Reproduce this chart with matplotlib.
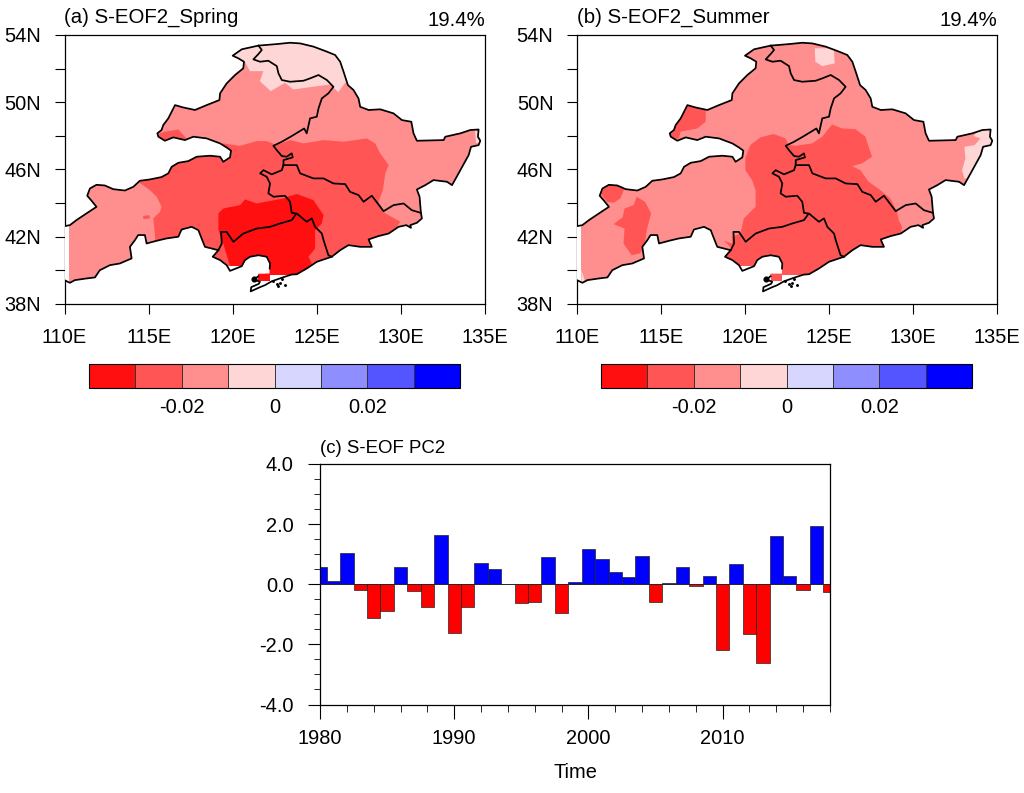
import matplotlib
matplotlib.use("Agg")
import matplotlib.pyplot as plt
import numpy as np
from matplotlib.patches import Polygon, Rectangle
from matplotlib.colors import ListedColormap, BoundaryNorm
from matplotlib.cm import ScalarMappable
from matplotlib.ticker import MultipleLocator, NullLocator

plt.rcParams['font.family'] = ['Liberation Sans', 'DejaVu Sans']

# ---- data ----
level_colors = ['#FF0F0F', '#FF5555', '#FF8E8E', '#FFD6D6', '#D6D6FF', '#8E8EFF', '#5555FF', '#0000FF']
levels = [-0.04, -0.03, -0.02, -0.01, 0, 0.01, 0.02, 0.03, 0.04]
level_ticks = [-0.02, 0, 0.02]
level_ticklabels = ['-0.02', '0', '0.02']

region_outline = [
 (110.0,42.63),(110.32,42.69),(110.71,42.99),(111.31,43.39),(111.90,43.78),(111.61,44.14),(111.35,44.44),
 (111.51,44.87),(111.90,45.09),(112.40,45.05),(112.90,44.83),(113.59,44.75),(114.09,44.97),(114.48,45.33),
 (115.08,45.41),(115.77,45.55),(116.17,45.77),(116.37,46.16),(116.77,46.40),(117.36,46.50),(117.86,46.76),
 (118.65,46.82),(119.25,46.76),(119.44,46.46),(119.84,46.72),(119.90,47.12),(119.64,47.31),(119.25,47.55),
 (118.45,47.85),(117.66,47.95),(117.16,47.75),(116.47,47.91),(115.97,47.71),(115.58,47.95),(115.52,48.15),
 (115.77,48.35),(115.87,48.64),(116.17,49.04),(116.57,49.83),(117.06,49.69),(117.76,49.54),(118.45,49.83),
 (119.21,50.13),(119.25,50.53),(119.64,51.12),(120.14,51.62),(120.63,52.02),(120.67,52.41),(120.34,52.61),
 (120.0,52.77),(120.54,53.15),(121.53,53.37),(122.62,53.46),(123.41,53.54),(124.01,53.50),(124.80,53.31),
 (125.60,53.01),(126.09,52.81),(126.39,52.41),(126.59,51.82),(126.85,51.02),(127.18,50.73),(127.48,50.23),
 (127.58,49.73),(128.08,49.54),(128.77,49.58),(129.56,49.34),(130.06,48.94),(130.62,48.84),(130.75,48.15),
 (130.95,47.71),(132.54,47.75),(132.64,47.95),(133.53,48.15),(134.13,48.35),(134.62,48.38),(134.58,47.95),
 (134.72,47.71),(134.62,47.45),(134.17,47.35),(134.03,46.86),(133.43,45.77),(133.04,45.07),(132.74,45.27),
 (131.94,45.37),(131.45,45.07),(130.95,44.81),(131.11,44.38),(131.19,43.42),(131.25,43.09),(130.95,42.83),
 (130.56,42.69),(130.60,42.53),(130.32,42.69),(129.86,42.59),(129.27,42.19),(128.67,42.04),(128.08,41.84),
 (128.27,41.40),(127.58,41.40),(126.88,41.50),(126.39,41.20),(125.89,40.81),(125.00,40.51),(124.40,40.11),
 (123.81,39.77),(123.5,39.75),(123.0,39.59),(122.32,39.35),(121.92,39.12),(121.62,39.0),(121.07,38.75),
 (121.1,39.0),(121.55,39.2),(121.62,39.32),(121.27,39.46),(121.52,39.65),(121.52,39.8),(122.2,39.8),
 (122.2,40.11),(122.22,40.41),
 (122.02,40.81),(121.53,40.90),(121.03,40.81),(120.73,40.61),(120.54,40.25),(119.84,39.97),(119.64,40.31),
 (119.25,40.61),(118.81,40.81),(119.15,41.20),(118.35,41.40),(118.15,41.90),(117.96,42.39),(117.56,42.59),
 (116.96,42.43),(116.77,42.0),(116.07,41.90),(115.48,41.76),(114.88,41.60),(114.78,42.10),(114.38,42.10),
 (114.19,41.80),(113.89,41.40),(113.99,40.71),(113.29,40.41),(112.70,40.31),(112.10,40.01),(111.81,39.58),
 (111.31,39.52),(110.62,39.42),(110.32,39.26),(110.0,39.42)]
coast_gap_start = (121.52,39.65)
coast_gap_end = (122.2,40.11)

border_north = [
 (121.53,53.37),(121.73,53.11),(121.53,52.87),(121.23,52.55),(121.63,52.41),(122.12,52.47),(122.62,52.15),
 (122.72,51.72),(122.92,51.32),(123.41,51.22),(124.21,51.28),(124.60,51.42),(125.10,51.62),(125.60,51.32),
 (125.99,50.92),(125.69,50.53),(125.30,50.23),(125.10,49.63),(125.0,49.14),(124.60,49.04),(124.40,48.15),
 (124.25,48.44),(123.51,47.99),(122.92,47.65),(122.42,47.41),(122.62,47.15),(122.92,46.80),(123.21,46.76),
 (123.51,46.96),(123.57,46.72),(123.02,46.56),(123.02,46.26)]
border_jilin_north = [
 (123.02,46.26),(123.81,46.26),(124.01,45.77),(124.80,45.47),(125.40,45.47),(125.99,45.17),(126.69,45.13),
 (126.98,44.67),(127.48,44.48),(127.78,44.08),(128.27,44.44),(128.47,44.18),(128.97,43.52),(129.56,43.88),
 (130.16,43.98),(130.65,43.58),(131.19,43.42)]
border_jilin_west = [
 (123.02,46.26),(122.92,45.96),(122.32,45.71),(121.83,45.96),(121.63,45.77),(122.02,45.57),(122.22,45.17),
 (122.12,44.58),(122.42,44.38),(123.11,44.44),(123.41,44.08),(123.51,43.42),(123.81,43.38),(124.40,42.89),
 (124.70,43.09),(124.90,42.59),(125.30,42.19),(125.40,41.80),(125.69,40.90),(125.89,40.81)]
border_liaoning = [
 (123.77,43.35),(123.51,42.99),(122.82,42.79),(122.22,42.59),(121.43,42.49),(120.63,42.19),(120.04,41.70),
 (119.64,42.29),(119.31,42.29),(119.35,41.60),(119.15,41.20)]
island_lon = [122.41, 122.81, 123.11, 122.62, 122.91, 122.71]
island_lat = [39.35, 39.26, 39.12, 39.16, 39.46, 39.06]
blob_lon = [121.27]
blob_lat = [39.46]

# contour regions of each panel: index into level_colors
spring_light = [(119.64,52.91),(120.73,52.4),(121.03,51.85),(121.82,51.85),(121.62,51.25),(122.26,50.66),(123.11,51.16),
 (123.6,50.76),(125.0,50.95),(125.79,51.06),(126.28,50.6),(126.68,51.16),(127.38,51.16),(127.38,53.9),(119.64,53.9)]
spring_light_tip = [(134.4,48.3),(134.8,48.3),(134.8,47.6),(134.45,47.6)]
spring_mid_nw = [(115.48,47.85),(115.67,48.15),(115.97,48.25),(116.77,48.38),(117.30,47.79),(116.27,47.45),(115.48,47.65)]
spring_mid = [(114.38,45.27),(115.08,44.77),(115.48,44.38),(115.77,43.78),(115.67,43.48),(115.28,43.09),(115.44,41.40),
 (115.44,38.42),(129.76,38.42),(129.76,42.59),(129.96,42.89),(129.03,43.42),(128.67,44.08),(128.93,44.77),
 (129.07,45.77),(129.27,46.26),(128.77,46.96),(128.47,47.55),(127.98,47.85),(126.59,47.65),(125.40,47.75),
 (124.21,47.55),(123.41,47.75),(122.62,47.45),(122.02,47.69),(121.43,47.69),(120.44,47.41),(119.44,47.55),
 (119.05,47.41),(118.65,46.92),(114.38,46.76)]
spring_mid_dot = [(114.68,43.23),(115.04,43.29),(115.08,43.09),(114.68,43.05)]
spring_strong = [(119.15,43.39),(119.44,43.68),(120.44,43.88),(120.73,44.22),(121.43,43.98),(123.02,44.28),(123.25,44.38),
 (123.81,44.54),(124.80,44.18),(125.40,43.29),(125.30,42.79),(124.90,42.39),(124.90,41.30),(124.50,40.81),
 (124.70,40.41),(123.91,39.71),(122.22,39.71),(120.54,40.25),(119.84,40.25),(119.44,41.60),(119.15,42.39)]

summer_light_n = [(124.15,53.21),(125.28,53.21),(125.34,52.31),(124.60,52.15),(124.19,52.41)]
summer_light_e = [(133.61,47.99),(134.01,47.85),(133.67,47.45),(133.06,47.35),(133.12,46.66),(132.92,45.96),(133.06,45.47),
 (135,45.47),(135,48.55),(134.01,48.5)]
summer_light_w = [(110.26,40.01),(110.46,39.42),(110.26,39.2)]
summer_mid_nw = [(116.67,49.83),(117.66,49.54),(117.66,48.84),(117.16,48.44),(116.17,48.25),(116.07,47.85),(115.3,47.75),
 (115.5,48.74),(116.0,49.7)]
summer_mid_wt = [(111.39,44.58),(111.49,45.17),(112.86,44.97),(112.58,44.28),(112.18,44.02),(111.78,44.08)]
summer_mid_w = [(113.55,44.38),(114.05,44.08),(114.41,43.39),(114.15,42.39),(114.01,41.40),(113.75,41.01),(113.25,40.90),
 (112.77,41.60),(112.83,42.49),(112.18,42.75),(112.71,43.15),(112.83,43.68),(113.37,43.88)]
summer_mid = [(120.32,47.45),(120.91,47.91),(121.71,48.11),(122.40,47.85),(122.60,47.45),(123.0,47.41),(123.99,47.55),
 (124.60,47.95),(125.18,48.68),(125.78,48.44),(126.57,48.40),(127.17,47.95),(127.36,47.35),(127.56,46.76),
 (126.96,46.36),(126.37,46.20),(126.87,45.96),(127.36,45.27),(128.06,44.77),(128.65,44.28),(129.05,43.48),
 (129.15,42.99),(129.35,42.59),(129.25,41.90),(129.25,38.42),(118.71,38.42),(118.71,40.61),(119.21,41.30),
 (118.75,41.76),(119.23,41.6),(119.23,42.0),(119.73,42.19),(119.93,43.09),(120.63,43.78),(120.63,44.77),
 (120.42,45.37),(120.02,45.96),(120.02,46.66)]

spring_zones = [(3, spring_light), (3, spring_light_tip), (1, spring_mid_nw), (1, spring_mid), (1, spring_mid_dot), (0, spring_strong)]
summer_zones = [(3, summer_light_n), (3, summer_light_e), (3, summer_light_w), (1, summer_mid_nw), (1, summer_mid_wt),
                (1, summer_mid_w), (1, summer_mid)]
spring_cell_level = 0
summer_cell_level = 1
# missing-data boxes (lon0, lat0, lon1, lat1) and the one isolated grid cell at the Liaodong tip
missing_boxes = [(109.9, 38, 110.26, 43), (119.70, 39.5, 120.73, 40.25), (120.8, 38, 135, 39.74)]
tip_cell = (121.52, 39.34, 122.2, 39.8)

years = np.arange(1980, 2019)
pc2 = [0.56, 0.11, 1.03, -0.19, -1.13, -0.89, 0.59, -0.23, -0.76, 1.64, -1.62, -0.75, 0.72, 0.51, 0.01,
       -0.62, -0.60, 0.90, -0.95, 0.07, 1.17, 0.83, 0.40, 0.25, 0.93, -0.59, 0.03, 0.56, -0.05, 0.27,
       -2.20, 0.69, -1.65, -2.63, 1.60, 0.28, -0.18, 1.95, -0.27]

W, H = 1024, 793
FS = 14.4
TS = 14.7
fig = plt.figure(figsize=(W/100, H/100), dpi=100)

def axpx(x0, y0, x1, y1):
    return fig.add_axes([x0/W, 1-y1/H, (x1-x0)/W, (y1-y0)/H])

def draw_map(ax, zones, cell_level, title, pct):
    ax.set_xlim(110, 135); ax.set_ylim(38, 54)
    clip = Polygon(region_outline, closed=True, transform=ax.transData, fc='none', ec='none')
    ax.add_patch(clip)
    base = Polygon(region_outline, closed=True, fc=level_colors[2], ec='none', zorder=1)
    ax.add_patch(base)
    for lev, poly in zones:
        p = Polygon(poly, closed=True, fc=level_colors[lev], ec='none', zorder=2)
        ax.add_patch(p); p.set_clip_path(clip)
    for x0, y0, x1, y1 in missing_boxes:
        r = Rectangle((x0, y0), x1-x0, y1-y0, fc='white', ec='none', zorder=3)
        ax.add_patch(r); r.set_clip_path(clip)
    c = Rectangle(tip_cell[:2], tip_cell[2]-tip_cell[0], tip_cell[3]-tip_cell[1], fc=level_colors[cell_level], ec='none', zorder=4)
    ax.add_patch(c); c.set_clip_path(clip)
    a = region_outline.index(coast_gap_start)
    b = region_outline.index(coast_gap_end)
    outline = np.array(region_outline)
    for seg in (outline[:a+1], outline[b:], np.array(border_north), np.array(border_jilin_north),
                np.array(border_jilin_west), np.array(border_liaoning)):
        ax.plot(seg[:,0], seg[:,1], color='k', lw=1.25, zorder=5, solid_joinstyle='round')
    ax.plot(island_lon, island_lat, ls='none', marker='o', ms=1.1, color='k', zorder=5)
    ax.plot(blob_lon, blob_lat, ls='none', marker='o', ms=3.4, color='k', zorder=5)
    ax.set_xticks([110, 115, 120, 125, 130, 135])
    ax.set_xticklabels(['110E', '115E', '120E', '125E', '130E', '135E'], fontsize=FS)
    ax.set_yticks([38, 42, 46, 50, 54])
    ax.set_yticklabels(['38N', '42N', '46N', '50N', '54N'], fontsize=FS)
    ax.yaxis.set_minor_locator(MultipleLocator(2))
    ax.tick_params(axis='both', which='major', length=7, width=0.8, pad=10)
    ax.tick_params(axis='y', which='minor', length=7, width=0.8)
    for s in ax.spines.values():
        s.set_linewidth(0.9)
    ax.text(0.0, 1.03, title, transform=ax.transAxes, ha='left', va='bottom', fontsize=TS)
    ax.text(1.0, 1.018, pct, transform=ax.transAxes, ha='right', va='bottom', fontsize=TS)

def draw_cbar(x0, x1):
    cax = axpx(x0, 364, x1, 388)
    cmap = ListedColormap(level_colors)
    norm = BoundaryNorm(levels, cmap.N)
    cb = fig.colorbar(ScalarMappable(norm=norm, cmap=cmap), cax=cax, orientation='horizontal', spacing='uniform',
                      ticks=level_ticks, drawedges=True)
    cb.ax.xaxis.set_minor_locator(NullLocator())
    cb.ax.set_xticklabels(level_ticklabels, fontsize=FS)
    cb.ax.tick_params(length=0, pad=7)
    cb.outline.set_linewidth(0.8)
    cb.dividers.set_linewidth(0.7)
    cb.dividers.set_color('#333333')

ax1 = axpx(64.5, 35, 485, 304)
draw_map(ax1, spring_zones, spring_cell_level, '(a) S-EOF2_Spring', '19.4%')
ax2 = axpx(577, 35, 997, 304)
draw_map(ax2, summer_zones, summer_cell_level, '(b) S-EOF2_Summer', '19.4%')
draw_cbar(89, 460)
draw_cbar(601, 972)

ax3 = axpx(320, 464, 830, 704.5)
colors = ['#0000FF' if v > 0 else '#FF0000' for v in pc2]
ax3.bar(years, pc2, width=1.0, color=colors, edgecolor='#222222', linewidth=0.5, zorder=2)
ax3.axhline(0, color='#222222', lw=0.6, zorder=3)
ax3.set_xlim(1980, 2018)
ax3.set_ylim(-4, 4)
ax3.set_xticks([1980, 1990, 2000, 2010])
ax3.set_xticklabels(['1980', '1990', '2000', '2010'], fontsize=FS)
ax3.xaxis.set_minor_locator(MultipleLocator(2))
ax3.set_yticks([-4, -2, 0, 2, 4])
ax3.set_yticklabels(['-4.0', '-2.0', '0.0', '2.0', '4.0'], fontsize=FS)
ax3.yaxis.set_minor_locator(MultipleLocator(0.5))
ax3.tick_params(axis='x', which='major', length=10, width=0.8, pad=8)
ax3.tick_params(axis='y', which='major', length=9, width=0.8, pad=10)
ax3.tick_params(axis='x', which='minor', length=5, width=0.6)
ax3.tick_params(axis='y', which='minor', length=4.5, width=0.6)
ax3.set_xlabel('Time', fontsize=FS, labelpad=10.5)
ax3.text(0.0, 1.03, '(c) S-EOF PC2', transform=ax3.transAxes, ha='left', va='bottom', fontsize=13.4)
for s in ax3.spines.values():
    s.set_linewidth(0.9)

fig.savefig('out.png', dpi=100)
